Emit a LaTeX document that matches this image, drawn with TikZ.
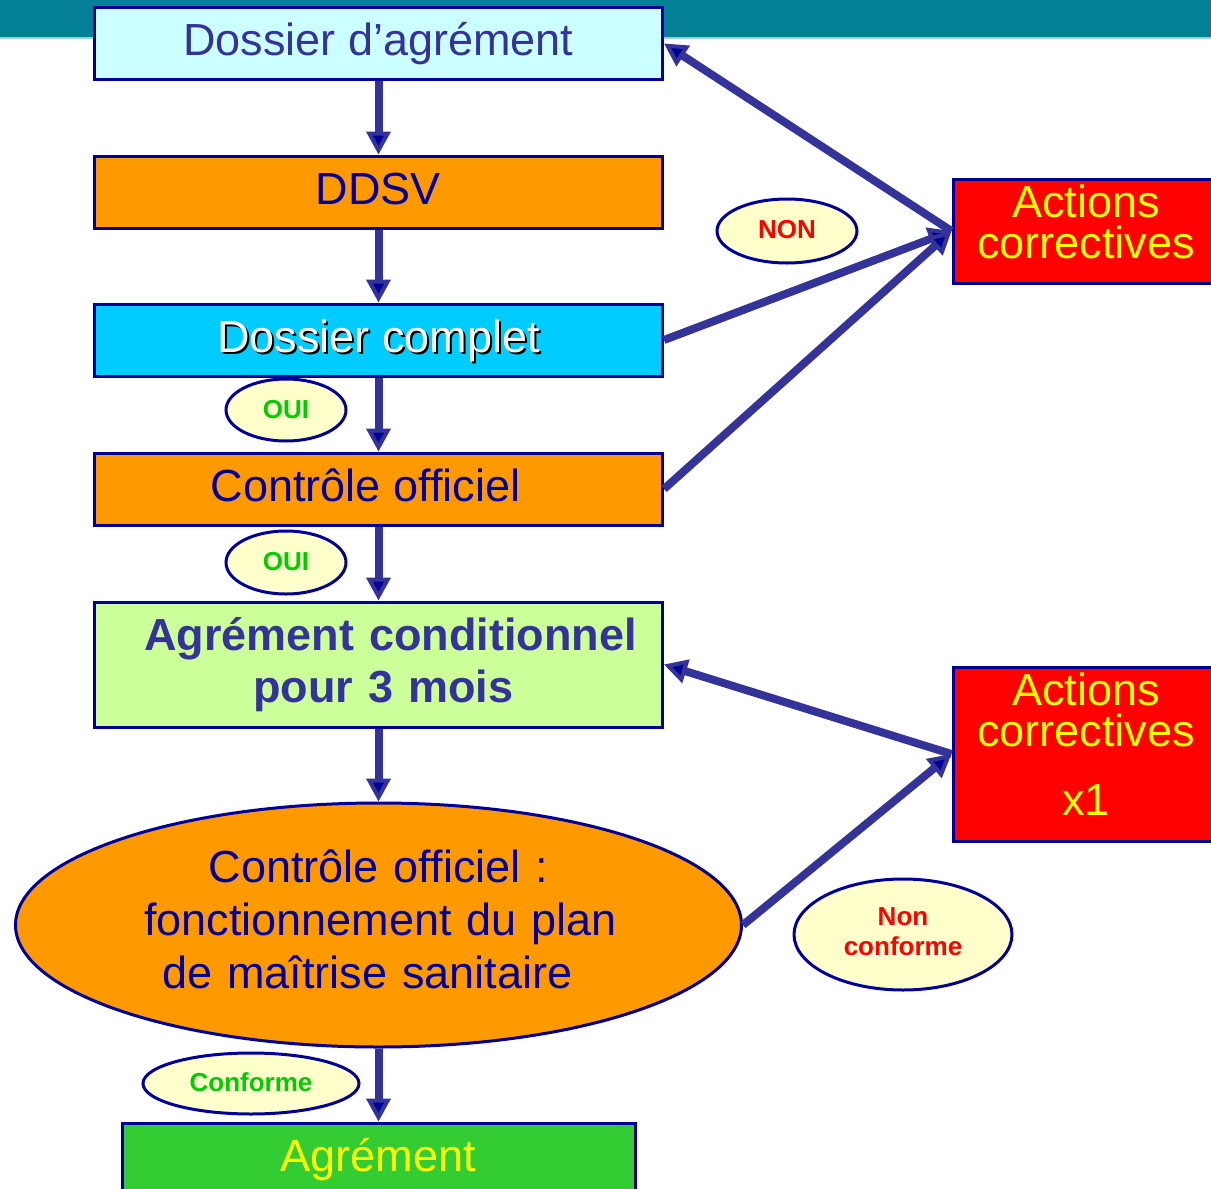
\documentclass[tikz,border=0pt]{standalone}
\usepackage{fontspec}
\setmainfont{Liberation Sans}
\usetikzlibrary{arrows.meta,shapes.geometric}
\definecolor{bannerteal}{HTML}{037F96}
\definecolor{bannerline}{HTML}{9ECFD9}
\definecolor{navy}{HTML}{000099}
\definecolor{arrowblue}{HTML}{333399}
\definecolor{paleblue}{HTML}{CCFFFF}
\definecolor{orangefill}{HTML}{FF9900}
\definecolor{skyblue}{HTML}{00CCFF}
\definecolor{palegreen}{HTML}{CCFF99}
\definecolor{greenfill}{HTML}{33CC33}
\definecolor{redfill}{HTML}{FF0000}
\definecolor{yellowtext}{HTML}{FFFF00}
\definecolor{cream}{HTML}{FFFFCC}
\definecolor{greentext}{HTML}{00CC00}
\definecolor{redtext}{HTML}{FF0000}
\newcommand\shadowedtext[1]{\makebox[0pt][l]{\hspace*{2pt}\raisebox{-2pt}{\textcolor{black}{#1}}}\textcolor{white}{#1}}
\begin{document}
\begin{tikzpicture}[x=1pt,y=-1pt,
  bigtext/.style={font=\fontsize{45pt}{53pt}\selectfont},
  flowbox/.style={rectangle,draw=navy,line width=3pt,inner sep=0pt,
    minimum width=568pt,minimum height=72pt,bigtext,text height=32pt,text depth=8pt},
  actionbox/.style={rectangle,draw=navy,line width=3pt,fill=redfill,inner sep=0pt,
    minimum width=266pt,text width=260pt,align=center,text=yellowtext,
    font=\fontsize{45pt}{41pt}\selectfont,text height=32pt},
  tag/.style={ellipse,draw=navy,line width=3pt,fill=cream,inner sep=0pt,
    font=\bfseries\fontsize{26pt}{30pt}\selectfont,text height=18.6pt,text depth=2pt},
  flow/.style={draw=arrowblue,line width=8pt,
    -{Triangle[length=23pt,width=24pt,line width=4pt,fill=navy]}},
]
\useasboundingbox (0,0) rectangle (1211,1189);
\clip (0,0) rectangle (1211,1189);
\fill[white] (0,0) rectangle (1211,1189);
\fill[bannerteal] (0,0) rectangle (1211,37);
\fill[bannerline] (0,37) rectangle (1211,39);

% main column
\node[flowbox,fill=paleblue,text=arrowblue] (b1) at (378.5,43.5) {Dossier d’agrément};
\node[flowbox,fill=orangefill,text=navy] (b2) at (378.5,192) {DDSV};
\node[flowbox,fill=skyblue] (b3) at (378.5,340) {\shadowedtext{Dossier complet}};
\node[flowbox,fill=orangefill,text=navy] (b4) at (378.5,489) {Contrôle officiel\hspace*{26pt}};
\node[rectangle,draw=navy,line width=3pt,fill=palegreen,inner sep=0pt,
  minimum width=568pt,minimum height=125pt,text width=540pt,align=center,
  text=arrowblue,font=\bfseries\fontsize{45pt}{52.5pt}\selectfont,
  text height=32pt,text depth=61pt] (b5) at (378.5,664.5)
  {\hspace*{24pt}Agrément conditionnel\\\hspace*{10pt}pour 3 mois};
\node[ellipse,draw=navy,line width=3pt,fill=orangefill,inner sep=0pt,
  minimum width=726pt,minimum height=244pt,text width=500pt,align=center,
  text=navy,bigtext,text height=32pt,text depth=118pt] (e1) at (378.5,925)
  {Contrôle officiel :\hspace*{24pt}\\\hspace*{4pt}fonctionnement du plan\\de maîtrise sanitaire\hspace*{22pt}};
\node[flowbox,minimum width=513pt,fill=greenfill,text=yellowtext] (ag) at (378.5,1159) {Agrément};

% corrective actions
\node[actionbox,minimum height=104pt,text depth=60pt] (a1) at (1086,231) {Actions\\correctives};
\node[actionbox,minimum height=174pt,text depth=130pt] (a2) at (1086,754) {Actions\\correctives\\[28pt]x1};

% tags
\node[tag,minimum width=140pt,minimum height=64pt,text=redtext,text depth=4pt] (non) at (787,231) {NON};
\node[tag,minimum width=120pt,minimum height=62pt,text=greentext] (oui1) at (286,410) {OUI};
\node[tag,minimum width=120pt,minimum height=63pt,text=greentext] (oui2) at (286,562.5) {OUI};
\node[tag,minimum width=216pt,minimum height=61pt,text=greentext] (conf) at (251,1083.5) {Conforme};
\node[tag,minimum width=218pt,minimum height=111pt,text width=150pt,align=center,
  text=redtext,text height=20pt,text depth=39pt] (nc) at (903,934.5) {Non\\conforme};

% connectors
\draw[flow] (b1) -- (b2);
\draw[flow] (b2) -- (b3);
\draw[flow] (b3) -- (b4);
\draw[flow] (b4) -- (b5);
\draw[flow] (b5.south) -- (e1.north);
\draw[flow] (e1.south) -- (ag.north);
\draw[flow] (a1.west) -- (b1.east);
\draw[flow] (b3.east) -- (a1.west);
\draw[flow] (b4.east) -- (a1.west);
\draw[flow] (a2.west) -- (b5.east);
\draw[flow] (e1.east) -- (a2.west);
\end{tikzpicture}
\end{document}
